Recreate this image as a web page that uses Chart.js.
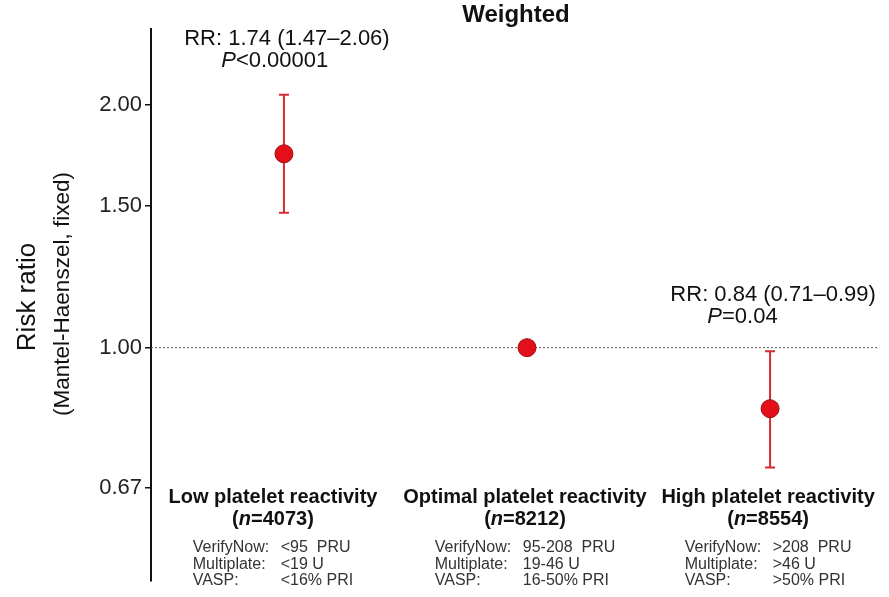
<!DOCTYPE html>
<html>
<head>
<meta charset="utf-8">
<script src="https://cdn.jsdelivr.net/npm/chart.js@4.4.1/dist/chart.umd.min.js"></script>
<style>
  html, body { margin: 0; padding: 0; background: #fff; }
  #wrap { width: 889px; height: 597px; }
</style>
</head>
<body>
<div id="wrap"><canvas id="rrChart" width="889" height="597"></canvas></div>
<script>
// Data
const categories = ['Low platelet reactivity', 'Optimal platelet reactivity', 'High platelet reactivity'];
const sampleSizes = [4073, 8212, 8554];
const riskRatios = [1.74, 1.00, 0.84];
const lowerCI = [1.47, null, 0.71];
const upperCI = [2.06, null, 0.99];
const yTicks = [0.67, 1.00, 1.50, 2.00];
const rrLabels = ['RR: 1.74 (1.47\u20132.06)', null, 'RR: 0.84 (0.71\u20130.99)'];
const pLabels = ['<0.00001', null, '=0.04'];
const verifyNow = ['<95  PRU', '95-208  PRU', '>208  PRU'];
const multiplate = ['<19 U', '19-46 U', '>46 U'];
const vasp = ['<16% PRI', '16-50% PRI', '>50% PRI'];

const FONT = '"Liberation Sans", Arial, Helvetica, sans-serif';
const RED = '#e3101a';
const BAR_RED = '#d42a32';

// error bars + reference line at RR = 1
const errorBars = {
  id: 'errorBars',
  beforeDatasetsDraw(chart) {
    const { ctx, chartArea, scales: { x, y } } = chart;
    ctx.save();
    const y1 = y.getPixelForValue(1);
    ctx.strokeStyle = '#555';
    ctx.lineWidth = 1;
    ctx.setLineDash([2, 2]);
    ctx.beginPath();
    ctx.moveTo(chartArea.left, y1);
    ctx.lineTo(chartArea.right, y1);
    ctx.stroke();
    ctx.setLineDash([]);

    ctx.strokeStyle = BAR_RED;
    ctx.lineWidth = 2;
    categories.forEach((c, i) => {
      if (lowerCI[i] == null) return;
      const px = x.getPixelForValue(i);
      const lo = y.getPixelForValue(lowerCI[i]);
      const hi = y.getPixelForValue(upperCI[i]);
      ctx.beginPath();
      ctx.moveTo(px, lo); ctx.lineTo(px, hi);
      ctx.moveTo(px - 5, lo); ctx.lineTo(px + 5, lo);
      ctx.moveTo(px - 5, hi); ctx.lineTo(px + 5, hi);
      ctx.stroke();
    });
    ctx.restore();
  }
};

// draws text runs [text, font] centred or left-aligned at x
function drawRuns(ctx, runs, x, y, align) {
  let total = 0;
  runs.forEach(r => { ctx.font = r[1]; total += ctx.measureText(r[0]).width; });
  let cx = align === 'center' ? x - total / 2 : x;
  ctx.textAlign = 'left';
  runs.forEach(r => {
    ctx.font = r[1];
    ctx.fillText(r[0], cx, y);
    cx += ctx.measureText(r[0]).width;
  });
}

const labels = {
  id: 'labels',
  afterDraw(chart) {
    const { ctx, scales: { x, y } } = chart;
    ctx.save();
    ctx.textBaseline = 'middle';
    ctx.fillStyle = '#111';

    // title
    ctx.font = 'bold 24px ' + FONT;
    ctx.textAlign = 'center';
    ctx.fillText('Weighted', 516, 15);

    // y axis titles
    ctx.save();
    ctx.translate(28, 297);
    ctx.rotate(-Math.PI / 2);
    ctx.font = '26px ' + FONT;
    ctx.fillText('Risk ratio', 0, 0);
    ctx.font = '22.5px ' + FONT;
    ctx.fillText('(Mantel-Haenszel, fixed)', 3, 35);
    ctx.restore();

    // RR / P annotations
    categories.forEach((c, i) => {
      if (!rrLabels[i]) return;
      const px = x.getPixelForValue(i) + 3;
      const top = y.getPixelForValue(upperCI[i]);
      ctx.font = '22px ' + FONT;
      ctx.textAlign = 'center';
      ctx.fillStyle = '#111';
      ctx.fillText(rrLabels[i], px, top - 56);
      const w = ctx.measureText(rrLabels[i]).width;
      drawRuns(ctx, [['P', 'italic 22px ' + FONT], [pLabels[i], '22px ' + FONT]], px - w / 2 + 37, top - 34, 'left');
    });

    // category labels and cut-off tables
    const shift = [-11, -2, -2];
    const bottom = y.getPixelForValue(yTicks[0]);
    categories.forEach((c, i) => {
      const cx = x.getPixelForValue(i) + shift[i];
      ctx.fillStyle = '#111';
      ctx.font = 'bold 20px ' + FONT;
      ctx.textAlign = 'center';
      ctx.fillText(c, cx, bottom + 10);
      drawRuns(ctx, [['(', 'bold 20px ' + FONT], ['n', 'italic bold 20px ' + FONT], ['=' + sampleSizes[i] + ')', 'bold 20px ' + FONT]], cx, bottom + 32, 'center');

      ctx.fillStyle = '#333';
      ctx.font = '16px ' + FONT;
      const rows = [['VerifyNow:', verifyNow[i]], ['Multiplate:', multiplate[i]], ['VASP:', vasp[i]]];
      const tab = 88;
      const width = Math.max(...rows.map(r => tab + ctx.measureText(r[1]).width));
      const left = cx - width / 2;
      ctx.textAlign = 'left';
      rows.forEach((r, k) => {
        const ry = bottom + 60 + k * 16.5;
        ctx.fillText(r[0], left, ry);
        ctx.fillText(r[1], left + tab, ry);
      });
    });
    ctx.restore();
  }
};

const ctxRR = document.getElementById('rrChart').getContext('2d');
new Chart(ctxRR, {
  type: 'scatter',
  data: {
    datasets: [{
      data: riskRatios.map((v, i) => ({ x: i, y: v })),
      backgroundColor: RED,
      borderColor: '#9a0d10',
      borderWidth: 1,
      pointRadius: 9,
      pointHoverRadius: 9
    }]
  },
  options: {
    responsive: false,
    animation: false,
    devicePixelRatio: 1,
    layout: { padding: { top: 29, bottom: 16, right: 11, left: 0 } },
    plugins: {
      legend: { display: false },
      tooltip: { enabled: false }
    },
    scales: {
      x: {
        type: 'linear',
        min: -0.547,
        max: 2.444,
        display: false
      },
      y: {
        type: 'logarithmic',
        bounds: 'data',
        min: 0.5138,
        max: 2.485,
        afterBuildTicks: (scale) => { scale.ticks = yTicks.map(v => ({ value: v })); },
        afterFit: (scale) => { scale.width = 151; },
        border: { display: true, color: '#111', width: 2 },
        grid: { drawOnChartArea: false, drawTicks: true, tickLength: 6, color: '#111', lineWidth: 1.5 },
        ticks: {
          color: '#222',
          padding: 3,
          font: { family: FONT, size: 22 },
          callback: (v) => Number(v).toFixed(2)
        }
      }
    }
  },
  plugins: [errorBars, labels]
});
</script>
</body>
</html>
